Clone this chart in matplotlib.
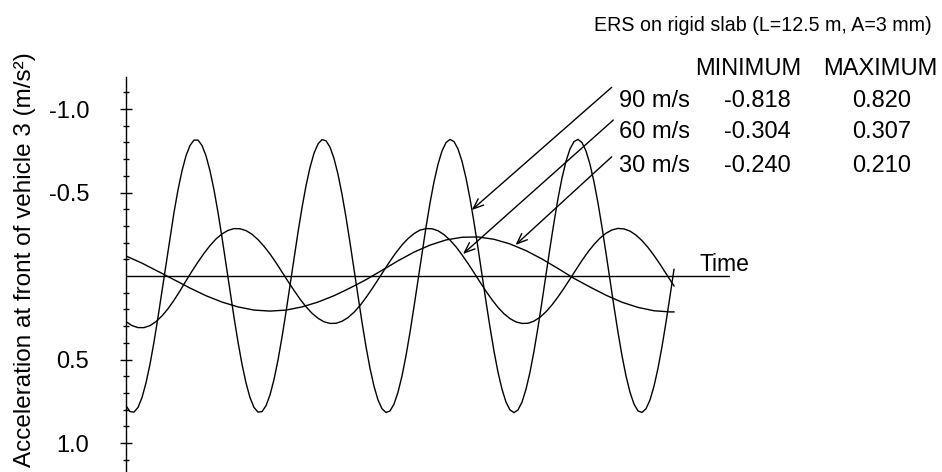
import numpy as np
import matplotlib
matplotlib.use("Agg")
import matplotlib.pyplot as plt
from matplotlib.ticker import FixedLocator, FixedFormatter

plt.rcParams['font.family'] = ['Liberation Sans', 'DejaVu Sans']
plt.rcParams['axes.unicode_minus'] = False

# ---------------- data ----------------
# time in arbitrary units (no time scale is shown on the chart)
t90 = list(np.round(np.arange(138) * 0.04, 2))
acc90 = [0.777, 0.812, 0.815, 0.787, 0.728, 0.640, 0.528, 0.395, 0.247, 0.089,
         -0.073, -0.231, -0.381, -0.516, -0.630, -0.720, -0.782, -0.814, -0.814, -0.782,
         -0.720, -0.630, -0.516, -0.381, -0.231, -0.073, 0.089, 0.247, 0.395, 0.528,
         0.640, 0.728, 0.787, 0.815, 0.812, 0.777, 0.712, 0.620, 0.503, 0.366,
         0.216, 0.057, -0.105, -0.262, -0.409, -0.540, -0.650, -0.735, -0.791, -0.817,
         -0.810, -0.772, -0.704, -0.609, -0.490, -0.352, -0.200, -0.040, 0.121, 0.277,
         0.423, 0.552, 0.660, 0.742, 0.795, 0.817, 0.808, 0.767, 0.696, 0.598,
         0.477, 0.337, 0.184, 0.024, -0.137, -0.292, -0.437, -0.564, -0.669, -0.749,
         -0.799, -0.818, -0.805, -0.761, -0.687, -0.587, -0.464, -0.322, -0.168, -0.008,
         0.153, 0.307, 0.450, 0.576, 0.678, 0.755, 0.802, 0.818, 0.802, 0.755,
         0.678, 0.576, 0.450, 0.307, 0.153, -0.008, -0.169, -0.322, -0.464, -0.587,
         -0.687, -0.761, -0.805, -0.818, -0.799, -0.749, -0.669, -0.564, -0.437, -0.292,
         -0.137, 0.024, 0.184, 0.337, 0.477, 0.598, 0.696, 0.767, 0.808, 0.817,
         0.795, 0.742, 0.660, 0.552, 0.423, 0.277, 0.121, -0.040]

t60 = list(np.round(np.arange(92) * 0.06, 2)) + [5.48]
acc60 = [0.273, 0.297, 0.309, 0.309, 0.297, 0.273, 0.239, 0.196, 0.145, 0.089,
         0.029, -0.029, -0.084, -0.136, -0.182, -0.222, -0.252, -0.273, -0.284, -0.283,
         -0.272, -0.250, -0.218, -0.178, -0.132, -0.080, -0.024, 0.032, 0.086, 0.138,
         0.184, 0.223, 0.253, 0.274, 0.284, 0.283, 0.271, 0.249, 0.217, 0.177,
         0.129, 0.077, 0.022, -0.034, -0.089, -0.140, -0.186, -0.224, -0.254, -0.275,
         -0.284, -0.283, -0.271, -0.248, -0.215, -0.175, -0.127, -0.075, -0.020, 0.036,
         0.091, 0.142, 0.188, 0.226, 0.255, 0.275, 0.284, 0.283, 0.270, 0.247,
         0.214, 0.173, 0.125, 0.073, 0.018, -0.038, -0.093, -0.144, -0.189, -0.227,
         -0.256, -0.276, -0.285, -0.282, -0.269, -0.245, -0.212, -0.171, -0.123, -0.071,
         -0.015, 0.041, 0.059]

t30 = list(np.round(np.arange(35) * 0.16, 2)) + [5.48]
acc30 = [-0.120, -0.077, -0.028, 0.022, 0.072, 0.118, 0.156, 0.185, 0.204, 0.210,
         0.204, 0.185, 0.156, 0.118, 0.072, 0.022, -0.034, -0.091, -0.143, -0.185,
         -0.216, -0.232, -0.234, -0.220, -0.192, -0.152, -0.102, -0.045, 0.014, 0.066,
         0.115, 0.157, 0.188, 0.208, 0.215, 0.215]

speeds = ['90 m/s', '60 m/s', '30 m/s']
minimums = [-0.818, -0.304, -0.240]
maximums = [0.820, 0.307, 0.210]

ytick_major = [-1.0, -0.5, 0.5, 1.0]
ytick_labels = ['-1.0', '-0.5', '0.5', '1.0']
ytick_minor = [-1.1, -0.9, -0.8, -0.7, -0.6, -0.4, -0.3, -0.2, -0.1,
               0.1, 0.2, 0.3, 0.4, 0.6, 0.7, 0.8, 0.9, 1.1]

title = 'ERS on rigid slab (L=12.5 m, A=3 mm)'
ylabel = 'Acceleration at front of vehicle 3 (m/s\u00b2)'

# ---------------- figure ----------------
W, H = 942, 472
fig = plt.figure(figsize=(W / 100, H / 100), dpi=100)
fig.patch.set_facecolor('white')

ax = fig.add_axes([126 / W, (H - 476.4) / H, 604 / W, 399.1 / H])
ax.set_xlim(0, 6.04)
ax.set_ylim(1.2, -1.19)

lw = 1.0
for t, a in [(t90, acc90), (t60, acc60), (t30, acc30)]:
    ax.plot(t, a, color='black', lw=lw, solid_joinstyle='round')

ax.axhline(0, color='black', lw=lw)

for s in ['top', 'right', 'bottom']:
    ax.spines[s].set_visible(False)
ax.spines['left'].set_linewidth(lw)
ax.set_facecolor('none')

ax.set_xticks([])
ax.yaxis.set_major_locator(FixedLocator(ytick_major))
ax.yaxis.set_major_formatter(FixedFormatter(ytick_labels))
ax.yaxis.set_minor_locator(FixedLocator(ytick_minor))
ax.tick_params(axis='y', which='major', direction='inout', length=9.1, width=lw,
               pad=22, labelsize=17)
ax.tick_params(axis='y', which='minor', direction='inout', length=4.8, width=lw)

# "Time" label
ax.text(5.73, -0.03, 'Time', fontsize=16.5, ha='left', va='baseline')

# arrows from table to curves
arrow = dict(arrowstyle='->,head_length=0.75,head_width=0.3', lw=lw, color='black',
             shrinkA=0, shrinkB=0, mutation_scale=10)
ax.annotate('', xy=(3.457, -0.395), xytext=(4.857, -1.130), arrowprops=arrow)
ax.annotate('', xy=(3.37, -0.132), xytext=(4.873, -0.934), arrowprops=arrow)
ax.annotate('', xy=(3.895, -0.186), xytext=(4.857, -0.714), arrowprops=arrow)

# title
fig.text(932 / W, 1 - 31 / H, title, fontsize=14.1, ha='right', va='baseline')

# y label
fig.text(25 / W, 1 - 260 / H, ylabel, fontsize=17.5, rotation=90,
         ha='center', va='center')

# table
fig.text(695 / W, 1 - 75 / H, 'MINIMUM', fontsize=17, ha='left', va='baseline')
fig.text(823 / W, 1 - 75 / H, 'MAXIMUM', fontsize=17, ha='left', va='baseline')
row_y = [106.7, 138.3, 171.7]
for sp, mn, mx, yy in zip(speeds, minimums, maximums, row_y):
    fig.text(619 / W, 1 - yy / H, sp, fontsize=17, ha='left', va='baseline')
    fig.text(724 / W, 1 - yy / H, f'{mn:.3f}', fontsize=17, ha='left', va='baseline')
    fig.text(852 / W, 1 - yy / H, f'{mx:.3f}', fontsize=17, ha='left', va='baseline')

fig.savefig('out.png', dpi=100, facecolor='white')
